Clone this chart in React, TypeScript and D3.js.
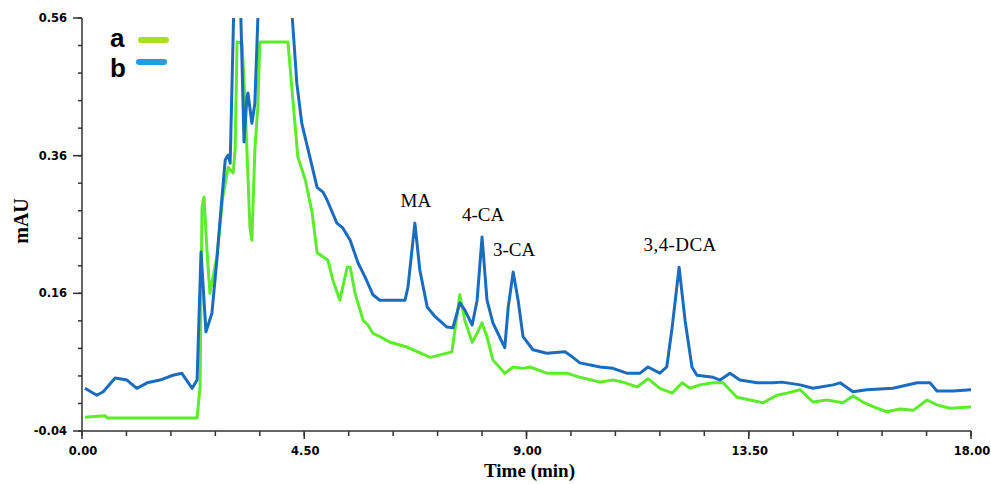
import React from "react";
import { scaleLinear, line, range } from "d3";

const width = 991;
const height = 484;
const margin = { top: 18, right: 20, bottom: 53, left: 82 };
const innerWidth = width - margin.left - margin.right;
const innerHeight = height - margin.top - margin.bottom;

// time (min)
const timeB = [
  0.06, 0.3, 0.43, 0.67, 0.91, 1.11, 1.32, 1.58, 1.84, 2.02, 2.23, 2.33, 2.41, 2.51, 2.63,
  2.73, 2.83, 2.9, 2.96, 3.0, 3.14, 3.28, 3.34, 3.36, 3.44, 3.5, 3.62, 3.9, 4.2, 4.35,
  4.45, 4.58, 4.76, 4.88, 4.96, 5.16, 5.28, 5.43, 5.59, 5.73, 5.89, 6.03, 6.54, 6.6, 6.74,
  6.84, 6.99, 7.15, 7.39, 7.51, 7.65, 7.75, 7.9, 8.0, 8.1, 8.2, 8.32, 8.42, 8.56, 8.63,
  8.73, 8.83, 8.93, 9.13, 9.41, 9.78, 9.94, 10.08, 10.49, 10.75, 11.03, 11.3, 11.46, 11.7,
  11.84, 11.95, 12.09, 12.21, 12.35, 12.45, 12.78, 12.92, 13.12, 13.32, 13.67, 13.99, 14.17,
  14.54, 14.8, 15.21, 15.35, 15.61, 15.89, 16.42, 16.91, 17.17, 17.31, 17.64, 18.0,
];
// mAU, sample b
const valueB = [
  0.022, 0.012, 0.017, 0.037, 0.034, 0.022, 0.03, 0.034, 0.041, 0.044, 0.022, 0.034, 0.22,
  0.104, 0.131, 0.208, 0.296, 0.354, 0.361, 0.349, 0.78, 0.38, 0.445, 0.451, 0.407, 0.436,
  0.68, 0.8, 0.62, 0.465, 0.407, 0.368, 0.314, 0.307, 0.296, 0.262, 0.255, 0.237, 0.204,
  0.184, 0.158, 0.15, 0.15, 0.169, 0.262, 0.194, 0.14, 0.126, 0.111, 0.11, 0.146, 0.136,
  0.114, 0.15, 0.242, 0.15, 0.117, 0.102, 0.081, 0.14, 0.191, 0.15, 0.097, 0.078, 0.073,
  0.075, 0.067, 0.059, 0.053, 0.051, 0.044, 0.044, 0.053, 0.044, 0.053, 0.111, 0.198, 0.121,
  0.053, 0.041, 0.038, 0.034, 0.044, 0.034, 0.03, 0.03, 0.031, 0.027, 0.022, 0.027, 0.03,
  0.017, 0.02, 0.022, 0.03, 0.03, 0.018, 0.018, 0.02,
];

const timeA = [
  0.06, 0.47, 0.51, 2.33, 2.39, 2.43, 2.47, 2.53, 2.59, 2.73, 2.85, 2.96, 3.06, 3.1, 3.14,
  3.24, 3.3, 3.4, 3.44, 3.5, 3.56, 3.6, 4.17, 4.27, 4.37, 4.52, 4.66, 4.76, 4.88, 4.98,
  5.08, 5.22, 5.37, 5.43, 5.53, 5.69, 5.79, 5.89, 6.03, 6.24, 6.58, 7.05, 7.49, 7.65, 7.75,
  7.9, 8.0, 8.1, 8.2, 8.32, 8.56, 8.73, 8.93, 9.07, 9.41, 9.82, 10.08, 10.49, 10.75, 10.95,
  11.24, 11.46, 11.7, 11.95, 12.15, 12.31, 12.51, 12.78, 12.98, 13.26, 13.52, 13.79, 14.07,
  14.27, 14.54, 14.8, 15.08, 15.41, 15.61, 15.81, 16.1, 16.3, 16.56, 16.83, 17.11, 17.31,
  17.57, 18.0,
];
// mAU, sample a
const valueA = [
  -0.02, -0.018, -0.021, -0.021, 0.024, 0.285, 0.3, 0.223, 0.16, 0.213, 0.3, 0.343, 0.335,
  0.368, 0.525, 0.524, 0.441, 0.256, 0.237, 0.368, 0.431, 0.525, 0.525, 0.441, 0.358, 0.325,
  0.277, 0.219, 0.213, 0.208, 0.179, 0.15, 0.198, 0.198, 0.16, 0.121, 0.114, 0.102, 0.097,
  0.089, 0.082, 0.067, 0.075, 0.158, 0.121, 0.089, 0.102, 0.117, 0.097, 0.063, 0.044, 0.053,
  0.051, 0.053, 0.044, 0.044, 0.038, 0.031, 0.034, 0.031, 0.024, 0.036, 0.022, 0.015, 0.03,
  0.022, 0.027, 0.03, 0.03, 0.009, 0.005, 0.001, 0.012, 0.015, 0.02, 0.002, 0.005, 0.001,
  0.011, 0.002, -0.007, -0.012, -0.008, -0.01, 0.005, -0.002, -0.007, -0.005,
];

const peakLabels = ["MA", "4-CA", "3-CA", "3,4-DCA"];
const peakTimes = [6.74, 8.1, 8.73, 12.09];
const peakValues = [0.262, 0.242, 0.191, 0.198];

const yMajorTicks = [-0.04, 0.16, 0.36, 0.56];
const xMajorTicks = [0, 4.5, 9, 13.5, 18];

const seriesNames = ["a", "b"];

const lineA = "#5cec2c";
const lineB = "#1a6cbf";
const legendColors = ["#a6e01e", "#1e9ee6"];

const tickFont = "'DejaVu Sans', Verdana, sans-serif";
const serif = "'Liberation Serif', 'Times New Roman', serif";

export default function App() {
  const xScale = scaleLinear().domain([0, 18]).range([0, innerWidth]);
  const yScale = scaleLinear().domain([-0.04, 0.56]).range([innerHeight, 0]);

  const dataA = timeA.map((t, i) => [t, valueA[i]] as [number, number]);
  const dataB = timeB.map((t, i) => [t, valueB[i]] as [number, number]);
  const pathGen = line<[number, number]>()
    .x((d) => xScale(d[0]))
    .y((d) => yScale(d[1]));

  const yMinor = range(-0.04, 0.5601, 0.04).map((v) => Math.round(v * 100) / 100);
  const xMinor = range(0, 18.001, 0.9).map((v) => Math.round(v * 10) / 10);

  return (
    <svg
      width={width}
      height={height}
      style={{ position: "absolute", left: 0, top: 0, background: "#fff" }}
    >
      <defs>
        <clipPath id="plot">
          <rect x={0} y={0} width={innerWidth} height={innerHeight} />
        </clipPath>
      </defs>
      <g transform={`translate(${margin.left},${margin.top})`}>
        <g clipPath="url(#plot)">
          <path d={pathGen(dataA) || ""} fill="none" stroke={lineA} strokeWidth={3} strokeLinejoin="round" />
          <path d={pathGen(dataB) || ""} fill="none" stroke={lineB} strokeWidth={3} strokeLinejoin="round" />
        </g>

        {/* axes */}
        <line x1={0} x2={0} y1={0} y2={innerHeight} stroke="#333" strokeWidth={1.5} />
        <line x1={0} x2={innerWidth} y1={innerHeight} y2={innerHeight} stroke="#333" strokeWidth={1.5} />

        {yMinor.map((v) => (
          <line key={"ym" + v} x1={-4} x2={0} y1={yScale(v)} y2={yScale(v)} stroke="#333" strokeWidth={1.5} />
        ))}
        {yMajorTicks.map((v) => (
          <g key={"y" + v} transform={`translate(0,${yScale(v)})`}>
            <line x1={-9} x2={0} stroke="#333" strokeWidth={1.5} />
            <text
              x={-15}
              dy="0.35em"
              textAnchor="end"
              fontFamily={tickFont}
              fontWeight="bold"
              fontSize={11.5}
            >
              {v.toFixed(2)}
            </text>
          </g>
        ))}

        {xMinor.map((t) => (
          <line key={"xm" + t} x1={xScale(t)} x2={xScale(t)} y1={innerHeight} y2={innerHeight + 5} stroke="#333" strokeWidth={1.5} />
        ))}
        {xMajorTicks.map((t) => (
          <g key={"x" + t} transform={`translate(${xScale(t)},${innerHeight})`}>
            <line y1={0} y2={8} stroke="#333" strokeWidth={1.5} />
            <text
              x={1}
              y={24}
              textAnchor="middle"
              fontFamily={tickFont}
              fontWeight="bold"
              fontSize={11.5}
            >
              {t.toFixed(2)}
            </text>
          </g>
        ))}

        <text
          x={innerWidth / 2 + 3}
          y={innerHeight + 46}
          textAnchor="middle"
          fontFamily={serif}
          fontWeight="bold"
          fontSize={19}
        >
          Time (min)
        </text>
        <text
          transform={`translate(${-54},${203}) rotate(-90)`}
          textAnchor="middle"
          fontFamily={serif}
          fontWeight="bold"
          fontSize={20}
        >
          mAU
        </text>

        {/* peak labels */}
        {peakLabels.map((label, i) => (
          <text
            key={label}
            x={xScale(peakTimes[i]) + 1}
            y={yScale(peakValues[i]) - 16}
            textAnchor="middle"
            fontFamily={serif}
            fontSize={19}
            letterSpacing={i === 3 ? 0.4 : 0}
          >
            {label}
          </text>
        ))}

        {/* legend */}
        {seriesNames.map((name, i) => (
          <g key={name} transform={`translate(${110 - margin.left},${47 + i * 30 - margin.top})`}>
            <text x={0} y={0} fontFamily="'Liberation Sans', Arial, sans-serif" fontWeight="bold" fontSize={26}>
              {name}
            </text>
            <line
              x1={31 - i * 2}
              x2={56 - i * 2}
              y1={-7 - i * 8}
              y2={-7 - i * 8}
              stroke={legendColors[i]}
              strokeWidth={6}
              strokeLinecap="round"
            />
          </g>
        ))}
      </g>
    </svg>
  );
}
